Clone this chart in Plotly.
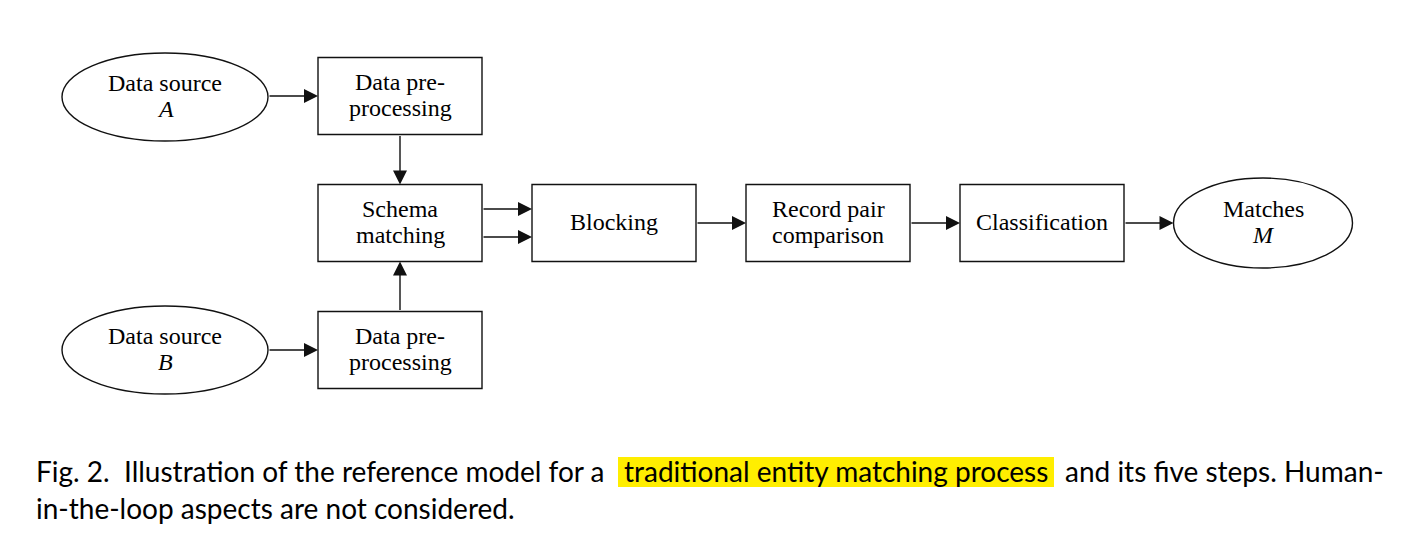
import plotly.graph_objects as go

# ---- diagram content ----
node_ids = ["srcA", "preA", "schema", "preB", "srcB", "block", "compare", "classify", "matches"]
node_labels = ["Data source<br><i>A</i>", "Data pre-<br>processing", "Schema<br>matching",
               "Data pre-<br>processing", "Data source<br><i>B</i>", "Blocking",
               "Record pair<br>comparison", "Classification", "Matches<br><i>M</i>"]
node_kinds = ["ellipse", "box", "box", "box", "ellipse", "box", "box", "box", "ellipse"]

edges = [("srcA", "preA"), ("preA", "schema"), ("srcB", "preB"), ("preB", "schema"),
         ("schema", "block"), ("schema", "block"), ("block", "compare"),
         ("compare", "classify"), ("classify", "matches")]

caption_1 = ["Fig. 2.&nbsp;&nbsp;Illustration of the reference model for a",
             "traditional entity matching process",
             "and its five steps. Human-"]
caption_2 = "in-the-loop aspects are not considered."

# ---- layout (pixel canvas; page body has an 8px margin) ----
W, H = 1412, 548
PAD = 8
pos = {"srcA": (165, 97), "preA": (400, 96), "schema": (400, 223), "preB": (400, 350),
       "srcB": (165, 350), "block": (614, 223), "compare": (828, 223),
       "classify": (1042, 223), "matches": (1263, 223)}
size = {"box": (164, 77), "ellipse": (206, 88)}
size_override = {"matches": (179, 90)}

line_col = "#111111"
serif = "Liberation Serif, DejaVu Serif, serif"
sans = "Lato, Open Sans, sans-serif"

fig = go.Figure()
shapes, annos = [], []

geom = {}
for nid, lab, kind in zip(node_ids, node_labels, node_kinds):
    cx, cy = pos[nid]
    w, h = size_override.get(nid, size[kind])
    geom[nid] = (cx, cy, w, h)
    shapes.append(dict(type="circle" if kind == "ellipse" else "rect", xref="x", yref="y",
                       x0=cx - w / 2, x1=cx + w / 2, y0=cy - h / 2, y1=cy + h / 2,
                       line=dict(color=line_col, width=1.4), fillcolor="white"))
    lines = lab.split("<br>")
    for i, ln in enumerate(lines):
        dy = (i - (len(lines) - 1) / 2) * 26
        annos.append(dict(x=cx, y=cy + dy - 1, xref="x", yref="y", text=ln, showarrow=False,
                          font=dict(family=serif, size=24, color="black"), align="center"))

count = {e: edges.count(e) for e in edges}
idx = {}
for s, t in edges:
    k = idx.get((s, t), 0)
    idx[(s, t)] = k + 1
    off = (k - (count[(s, t)] - 1) / 2) * 28
    sx, sy, sw, sh = geom[s]
    tx, ty, tw, th = geom[t]
    if abs(sy - ty) < 5:  # horizontal
        y = ty + off
        x0, y0, x1, y1 = sx + sw / 2, y, tx - tw / 2, y
    else:  # vertical
        x = tx + off
        if sy < ty:
            x0, y0, x1, y1 = x, sy + sh / 2, x, ty - th / 2
        else:
            x0, y0, x1, y1 = x, sy - sh / 2, x, ty + th / 2
    annos.append(dict(x=x1, y=y1, ax=x0, ay=y0, xref="x", yref="y", axref="x", ayref="y",
                      text="", showarrow=True, arrowhead=2, arrowsize=2.0,
                      arrowwidth=1.4, arrowcolor=line_col, standoff=0, startstandoff=0))

# caption with highlighted phrase
shapes.append(dict(type="rect", xref="x", yref="y", x0=618, x1=1054, y0=457, y1=487,
                   fillcolor="#ffee00", line=dict(width=0), layer="below"))
cap_font = dict(family=sans, size=28, color="black")
annos.append(dict(x=34, y=471, xref="x", yref="y", text=caption_1[0], showarrow=False,
                  xanchor="left", font=cap_font))
annos.append(dict(x=836, y=471, xref="x", yref="y", text=caption_1[1], showarrow=False,
                  xanchor="center", font=cap_font))
annos.append(dict(x=1386, y=471, xref="x", yref="y", text=caption_1[2], showarrow=False,
                  xanchor="right", font=cap_font))
annos.append(dict(x=34, y=508, xref="x", yref="y", text=caption_2, showarrow=False,
                  xanchor="left", font=cap_font))

fig.update_layout(
    width=W - PAD, height=H - PAD, margin=dict(l=0, r=0, t=0, b=0),
    paper_bgcolor="white", plot_bgcolor="white",
    xaxis=dict(range=[PAD, W], visible=False, fixedrange=True),
    yaxis=dict(range=[H, PAD], visible=False, fixedrange=True),
    shapes=shapes, annotations=annos, showlegend=False,
)
fig.write_html("out.html")
